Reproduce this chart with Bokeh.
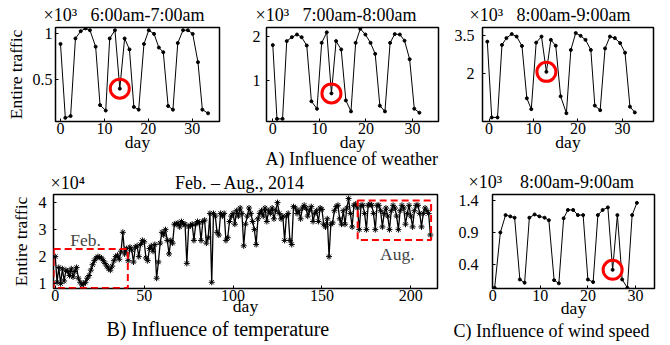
from bokeh.plotting import figure
from bokeh.models import Range1d, FixedTicker, CustomJSTickFormatter, Label, Title
from bokeh.layouts import column, row
from bokeh.embed import file_html
from bokeh.resources import INLINE

FONT = "Liberation Serif"
NB = "\u00a0"

# ---------------- data ----------------
days_a1 = [0, 1.1, 2.3, 3.4, 4.6, 5.7, 6.7, 8.0, 9.0, 10.3, 11.2, 12.4, 13.5, 14.6, 15.7, 16.7,
           17.8, 19.0, 20.1, 21.3, 22.4, 23.4, 24.5, 25.6, 26.7, 27.9, 29.0, 30.1, 31.3, 32.3, 33.6]
traffic_a1 = [0.89, 0.08, 0.10, 0.95, 1.03, 1.06, 1.04, 0.86, 0.22, 0.16, 0.95, 1.04, 0.40, 0.95,
              0.83, 0.20, 0.17, 0.89, 1.04, 1.00, 0.85, 0.80, 0.21, 0.17, 0.90, 1.04, 1.04, 1.00,
              0.69, 0.17, 0.13]

days_a2 = [0, 0.9, 2.1, 3.0, 4.1, 5.2, 6.2, 7.3, 8.3, 9.5, 10.5, 11.6, 12.6, 13.6, 14.7, 15.7,
           16.8, 17.8, 18.8, 19.9, 21.0, 22.0, 23.0, 24.1, 25.2, 26.2, 27.3, 28.3, 29.4, 30.4, 31.5]
traffic_a2 = [1.80, 0.12, 0.12, 1.89, 1.98, 2.04, 1.98, 1.79, 0.52, 0.35, 1.85, 2.09, 0.70, 1.89,
              1.70, 0.54, 0.29, 1.85, 2.17, 2.04, 1.85, 1.60, 0.42, 0.29, 1.85, 2.05, 2.04, 1.90,
              1.48, 0.35, 0.26]

days_a3 = [-0.4, 0.6, 1.9, 2.9, 3.9, 5.1, 6.2, 7.4, 8.5, 9.5, 10.6, 11.8, 12.9, 13.9, 15.0, 16.1,
           17.4, 18.4, 19.5, 20.6, 21.7, 22.9, 23.8, 25.0, 26.1, 27.2, 28.3, 29.5, 30.6, 31.7, 32.8]
traffic_a3 = [3.27, 0.26, 0.26, 3.14, 3.41, 3.57, 3.47, 3.10, 1.02, 0.59, 3.23, 3.47, 2.07, 3.34,
              3.11, 1.10, 0.43, 2.94, 3.61, 3.50, 3.34, 2.94, 0.73, 0.55, 3.00, 3.47, 3.41, 3.21,
              2.83, 0.69, 0.46]

# Feb. 1 - Aug. 31, 2014 (212 days), x10^4
traffic_b = [
    2.0, 1.05, 1.6, 1.0, 1.55, 1.1, 1.5,
    1.45, 1.3, 1.55, 1.25, 1.45, 1.6, 1.2,
    1.05, 0.95, 1.0, 1.05, 1.2, 1.3, 1.5,
    1.7, 1.85, 1.95, 2.0, 1.98, 1.95, 1.85,
    1.75, 1.65, 1.55, 1.5, 1.65, 1.85, 2.0,
    2.05, 1.9, 2.2, 2.9, 2.1, 2.3, 1.85,
    2.35, 2.25, 1.8, 2.35, 2.4, 2.0, 2.45,
    2.6, 2.55, 1.95, 1.85, 2.3, 2.4, 2.2,
    2.45, 1.2, 1.8, 2.5, 2.9, 2.8, 3.0,
    2.6, 2.1, 2.6, 2.5, 3.2, 3.2, 3.25,
    3.1, 3.3, 3.2, 3.2, 1.75, 3.1, 3.15,
    3.2, 2.6, 3.2, 3.3, 3.25, 2.6, 3.3,
    3.35, 2.5, 2.7, 3.6, 1.05, 3.6, 3.5,
    2.9, 2.8, 3.6, 3.5, 3.6, 2.6, 2.7,
    3.3, 3.5, 3.6, 3.2, 3.7, 3.5, 3.8,
    3.6, 2.4, 3.2, 3.5, 3.8, 3.6, 3.3,
    3.0, 2.45, 3.4, 3.6, 3.7, 3.5, 3.8,
    3.3, 3.7, 3.6, 3.8, 3.4, 3.7, 4.0,
    3.6, 3.4, 3.5, 2.6, 3.5, 3.6, 2.6,
    2.45, 3.85, 3.8, 3.6, 3.7, 3.4, 3.8,
    3.9, 3.8, 3.5, 3.7, 3.85, 3.3, 3.6,
    3.7, 3.3, 3.8, 3.75, 3.2, 3.1, 3.4,
    2.0, 3.2, 3.25, 3.7, 3.85, 3.9, 3.4,
    3.2, 3.7, 3.2, 3.8, 4.15, 3.6, 3.1,
    3.9, 3.95, 3.8, 3.0, 3.9, 3.9, 3.6,
    3.0, 3.9, 3.95, 3.9, 3.6, 3.0, 3.9,
    3.9, 3.7, 3.1, 3.6, 3.8, 3.5, 3.0,
    3.7, 3.9, 3.8, 3.5, 3.0, 3.7, 3.9,
    3.8, 3.2, 3.6, 3.9, 3.5, 3.1, 3.7,
    3.9, 3.9, 3.6, 3.1, 3.6, 3.8, 3.7,
    3.6, 2.8,
]
days_b = list(range(len(traffic_b)))

days_c = [0.4, 1.6, 2.7, 3.7, 4.6, 5.7, 6.7, 7.7, 8.8, 9.8, 10.9, 11.8, 12.9, 13.9, 14.9, 15.8,
          16.9, 17.9, 19.0, 20.0, 21.1, 22.1, 23.1, 24.2, 25.2, 26.2, 27.2, 28.3, 29.3, 30.3]
traffic_c = [0.04, 0.90, 1.17, 1.15, 1.13, 0.17, 0.12, 1.13, 1.18, 1.15, 1.13, 1.09, 0.16, 0.11,
             1.12, 1.25, 1.25, 1.17, 1.17, 0.17, 0.13, 1.17, 1.25, 1.29, 0.32, 1.17, 0.17, 0.04,
             1.17, 1.36]

circled_a = 12   # index of the rainy day in A panels
circled_c = 24   # index of the windy day in C

feb_box = dict(left=-0.9, right=40.8, bottom=0.84, top=2.28)
aug_box = dict(left=170.1, right=211.4, bottom=2.62, top=4.08)

ticks_day_a = [0, 10, 20, 30]
ticks_day_b = [0, 50, 100, 150, 200]
ticks_a1 = [0.5, 1]
ticks_a2 = [1, 2]
ticks_a3 = [2, 3.5]
ticks_b = [1, 2, 3, 4]
ticks_c = [0.4, 0.9, 1.4]


def make_fig(width, height, bl, br, bt, bb, xr, yr, xticks, yticks, ystand,
             xlab_stand=-5, ylabel=None, ylab_stand=2):
    p = figure(width=width, height=height, output_backend="svg", toolbar_location=None,
               x_range=Range1d(*xr), y_range=Range1d(*yr),
               min_border_left=bl, min_border_right=br, min_border_top=bt, min_border_bottom=bb)
    p.grid.visible = False
    p.outline_line_color = "black"
    p.outline_line_width = 1.5
    p.outline_line_alpha = 1.0
    for ax in (p.xaxis[0], p.yaxis[0]):
        ax.axis_line_color = None
        ax.major_tick_in = 3
        ax.major_tick_out = 0
        ax.minor_tick_line_color = None
        ax.major_label_text_font = FONT
        ax.major_label_text_font_size = "16px"
        ax.major_label_text_color = "black"
        ax.axis_label_text_font = FONT
        ax.axis_label_text_font_style = "normal"
        ax.axis_label_text_font_size = "17.5px"
        ax.axis_label_text_color = "black"
        ax.formatter = CustomJSTickFormatter(code="return String(tick);")
    p.xaxis[0].ticker = FixedTicker(ticks=xticks)
    p.yaxis[0].ticker = FixedTicker(ticks=yticks)
    p.xaxis[0].major_label_standoff = 1
    p.xaxis[0].axis_label = "day"
    p.xaxis[0].axis_label_standoff = xlab_stand
    p.yaxis[0].major_label_standoff = ystand
    if ylabel:
        p.yaxis[0].axis_label = ylabel
        p.yaxis[0].axis_label_standoff = ylab_stand
    return p


def title(p, text, side, offset, standoff, size="18px"):
    p.add_layout(Title(text=text, align="left", offset=offset, standoff=standoff,
                       vertical_align="middle", text_font=FONT, text_font_size=size,
                       text_font_style="normal", text_color="black"), side)


def series(p, xs, ys, marker="circle", msize=3):
    p.line(xs, ys, line_color="black", line_width=1)
    p.scatter(xs, ys, marker=marker, size=msize, line_color="black", fill_color="black")


def ring(p, xs, ys, i):
    p.scatter([xs[i]], [ys[i]], marker="circle", size=19, fill_color=None,
              line_color="red", line_width=3)


# ---------------- row 1 : A) weather ----------------
a1 = make_fig(242, 168, 55, 23, 27, 47, (-1.14, 36.2), (0.04, 1.07), ticks_day_a, ticks_a1, 3,
              ylabel="Entire traffic", ylab_stand=4)
series(a1, days_a1, traffic_a1)
ring(a1, days_a1, traffic_a1, circled_a)
title(a1, "×10³" + NB * 3 + "6:00am-7:00am", "above", -12, 4)

a2 = make_fig(208, 168, 24, 12, 27, 47, (-1.35, 35.6), (0.06, 2.2), ticks_day_a, ticks_a2, 6)
series(a2, days_a2, traffic_a2)
ring(a2, days_a2, traffic_a2, circled_a)
title(a2, "×10³" + NB * 3 + "7:00am-8:00am", "above", -11, 4)
title(a2, "A) Influence of weather", "below", -1, -14)

a3 = make_fig(220, 168, 32, 17, 27, 47, (-1.48, 37.0), (0.1, 3.83), ticks_day_a, ticks_a3, 8)
series(a3, days_a3, traffic_a3)
ring(a3, days_a3, traffic_a3, circled_a)
title(a3, "×10³" + NB * 3 + "8:00am-9:00am", "above", -13, 4)

# ---------------- row 2 : B) temperature, C) wind ----------------
b = make_fig(450, 177, 53, 13, 24, 57, (-1.0, 215.0), (0.82, 4.3), ticks_day_b, ticks_b, 7,
             xlab_stand=-8, ylabel="Entire traffic", ylab_stand=5)
b.line(days_b, traffic_b, line_color="black", line_width=1.3)
b.scatter(days_b, traffic_b, marker="asterisk", size=6, line_color="black", line_width=1)
for bx in (feb_box, aug_box):
    b.quad(left=bx["left"], right=bx["right"], bottom=bx["bottom"], top=bx["top"],
           fill_color=None, line_color="red", line_width=2, line_dash="7 4")
b.add_layout(Label(x=17.0, y=2.63, text="Feb.", text_font=FONT, text_font_size="17.5px",
                   text_align="center", text_baseline="middle"))
b.add_layout(Label(x=192.4, y=2.09, text="Aug.", text_font=FONT, text_font_size="17.5px",
                   text_align="center", text_baseline="middle"))
title(b, "×10⁴" + NB * 20 + "Feb. – Aug., 2014", "above", -3, 2)
title(b, "B) Influence of temperature", "below", 53, -4, "20px")

c = make_fig(220, 177, 42, 16, 26, 56, (-0.05, 34.0), (0.03, 1.49), ticks_day_a, ticks_c, 14,
             xlab_stand=-6)
series(c, days_c, traffic_c)
ring(c, days_c, traffic_c, circled_c)
title(c, "×10³" + NB * 4 + "8:00am-9:00am", "above", -24, 4)
title(c, "C) Influence of wind speed", "below", -39, -1)

layout = column(row(a1, a2, a3, spacing=0), row(b, c, spacing=0), spacing=0)

open("out.html", "w").write(file_html(layout, INLINE))
